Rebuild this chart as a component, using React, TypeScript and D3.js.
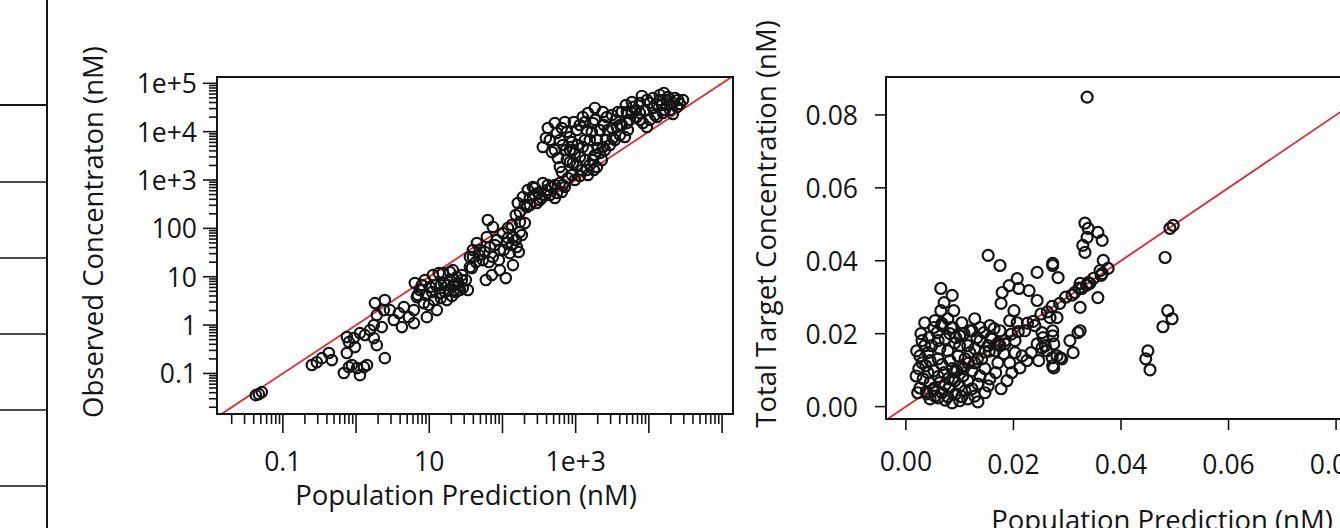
import React from 'react'
import * as d3 from 'd3'

// ---- left panel: observed vs population prediction (log-log), [pred, obs] in nM
const concLow: [number, number][] = [
  [0.0427, 0.0356], [0.047, 0.0373], [0.0516, 0.0411],
  [0.249, 0.149], [0.291, 0.171], [0.341, 0.207], [0.425, 0.264], [0.467, 0.189],
  [0.681, 0.102], [0.798, 0.135], [0.877, 0.149], [1.03, 0.129], [1.13, 0.0923], [1.28, 0.135], [1.41, 0.149],
  [0.748, 0.264], [0.798, 0.445], [0.933, 0.538], [0.964, 0.351], [0.748, 0.565],
  [1.13, 0.683], [1.32, 0.621], [1.55, 0.788], [1.75, 0.538], [1.92, 0.385], [2.47, 0.207],
  [1.81, 2.85], [2.47, 3.29], [1.92, 1.61], [2.25, 0.909], [1.75, 1.0], [2.4, 2.04], [2.9, 2.04],
  [3.28, 1.27], [3.85, 1.77], [4.23, 0.909], [4.5, 2.36], [5.26, 1.46], [6.17, 1.1], [6.17, 2.04]
]

const concMid: [number, number][] = [
  [6.35, 7.4], [6.77, 3.79], [7.45, 5.3], [8.43, 2.85], [9.27, 1.46], [10.2, 6.11], [11.6, 3.29], [12.7, 2.04],
  [13.5, 11.9], [14.0, 4.59], [15.8, 7.4], [17.4, 3.29], [19.1, 8.53], [21.7, 5.3], [23.8, 9.84], [26.2, 5.3],
  [27.9, 8.53], [35.9, 25.5], [38.2, 15.1],
  [6.98, 4.18], [7.93, 6.73], [8.98, 4.18], [9.88, 2.59], [10.9, 4.82], [12.3, 6.73], [14.4, 3.62], [16.3, 4.82],
  [17.9, 6.73], [20.4, 3.98], [22.4, 6.73], [24.6, 7.4], [28.8, 5.83], [31.6, 8.53], [33.7, 5.3],
  [8.71, 8.53], [11.2, 10.8], [14.4, 6.73], [18.5, 5.3], [23.1, 4.82], [27.9, 10.8],
  [15.3, 11.9], [19.1, 12.5], [21.0, 13.7], [35.9, 15.8], [39.5, 25.5], [44.7, 49.8], [49.1, 35.6], [54.0, 22.1],
  [61.2, 66.2], [67.3, 41.1], [73.9, 25.5], [83.8, 57.4], [92.1, 35.6], [101, 80.1], [115, 49.8], [126, 30.9],
  [139, 66.2], [157, 41.1], [173, 84.0], [63.1, 149], [73.9, 107], [202, 129], [39.5, 35.6],
  [43.4, 20.1], [47.6, 28.1], [57.5, 32.4], [65.2, 20.1], [78.7, 45.2], [89.3, 22.1], [104, 35.6], [119, 63.1],
  [134, 45.2], [152, 57.4], [167, 32.4], [184, 72.8],
  [71.6, 10.8], [92.1, 13.7], [111, 9.38], [139, 17.4], [59.3, 8.53],
  [152, 189], [134, 117], [119, 102], [173, 135]
]

const concHigh: [number, number][] = [
  [162, 334], [190, 445], [222, 621], [260, 716], [305, 538], [356, 867], [405, 621], [473, 716], [553, 538],
  [647, 565], [711, 716], [215, 277], [295, 334], [173, 218], [202, 304], [237, 425], [277, 490], [324, 385],
  [379, 490], [444, 490], [520, 789], [608, 867], [782, 1100], [887, 1270], [975, 1000],
  [237, 304], [277, 684], [345, 425], [417, 789], [520, 425], [668, 789],
  [608, 1860], [759, 2590], [916, 2250], [1140, 2990], [1420, 1610], [1720, 2590], [2140, 3620], [1950, 1860],
  [916, 4180], [1250, 4820], [1560, 6730], [2350, 4820], [647, 1470], [1040, 2050], [1220, 1610], [1340, 2590],
  [1560, 2050], [1830, 3290], [2280, 2590], [2510, 4180], [2930, 5300], [3430, 6730], [4020, 8530], [2750, 10800],
  [2430, 13700], [834, 2360], [1140, 1210], [1470, 1270], [1770, 1610],
  [356, 4820], [444, 6730], [520, 15100], [553, 9390], [711, 15800], [759, 9840], [520, 4180], [571, 2850],
  [668, 5300], [887, 6110], [975, 3620], [1040, 10800], [417, 11900], [834, 7760],
  [392, 7400], [473, 3800], [608, 6730], [647, 11900], [834, 4180], [1070, 5300], [1140, 13700], [1340, 6730],
  [1660, 9840], [1830, 17500], [2010, 4590], [2590, 6730], [3130, 11900], [3540, 17500], [4280, 13700],
  [5160, 10800], [3780, 25500], [2350, 25500], [1830, 30900], [1340, 15800], [944, 15800], [735, 4180], [1470, 4180],
  [1250, 20100], [1470, 24300], [1720, 15100], [2140, 10800], [2670, 20100], [3130, 22100], [3660, 12500],
  [4280, 25500], [4700, 7760], [5000, 15100], [5860, 24300], [1420, 10800], [1950, 6730], [3220, 7400],
  [6040, 32400], [7530, 39200], [9390, 45200], [11400, 49800], [14100, 57400], [17600, 45200], [21300, 39200],
  [24200, 32400], [19400, 28100], [15500, 24300], [12900, 20100], [10300, 17500], [8280, 15100], [7530, 24300],
  [11400, 30900], [9390, 12500], [6850, 20100], [15100, 35600], [21300, 23200], [5000, 25500], [8810, 28100],
  [10300, 39200], [12100, 22100], [14100, 45200], [16600, 28100], [18200, 52100], [22700, 49800], [25000, 45200],
  [6640, 28100], [5500, 17500], [4020, 13700],
  [5860, 41100], [8020, 54700], [12900, 37400], [16000, 63100], [19400, 37400], [26500, 37400], [29200, 45200],
  [4850, 35600], [7530, 17500]
]

const concDomainX = [0.0126, 1.41e5]
const concDomainY = [0.0145, 1.35e5]
const concXTickValues = [0.1, 10, 1000]
const concXTickLabels = ['0.1', '10', '1e+3']
const concYTickValues = [0.1, 1, 10, 100, 1e3, 1e4, 1e5]
const concYTickLabels = ['0.1', '1', '10', '100', '1e+3', '1e+4', '1e+5']

// ---- right panel: total target concentration vs population prediction (linear), [pred, obs] in nM
const targetOuter: [number, number][] = [
  [0.0337, 0.0849], [0.0333, 0.0503], [0.0339, 0.0489], [0.0337, 0.0464], [0.0329, 0.0442], [0.0333, 0.0423],
  [0.0357, 0.0478], [0.0365, 0.0456], [0.0367, 0.0401], [0.0365, 0.0365], [0.0376, 0.0379], [0.0283, 0.0354],
  [0.0273, 0.0393], [0.0324, 0.0272], [0.0357, 0.0299], [0.0314, 0.0313], [0.0327, 0.0324], [0.0339, 0.034],
  [0.0281, 0.0244], [0.0273, 0.0194], [0.0305, 0.0181], [0.032, 0.0203], [0.0311, 0.0148], [0.0287, 0.0134],
  [0.045, 0.0153], [0.0454, 0.0101], [0.0446, 0.0131], [0.0482, 0.0409], [0.0491, 0.0489], [0.0497, 0.0497],
  [0.0487, 0.0263], [0.0495, 0.0241], [0.0478, 0.0219], [0.0273, 0.0112], [0.029, 0.0131], [0.0361, 0.0373],
  [0.0342, 0.0338], [0.0324, 0.0338], [0.0324, 0.0208], [0.0268, 0.0244], [0.0273, 0.0208], [0.0255, 0.0189],
  [0.0244, 0.0172], [0.0262, 0.0153], [0.0275, 0.0106], [0.0272, 0.0134], [0.0247, 0.0126], [0.0281, 0.0139],
  [0.0253, 0.0161], [0.0275, 0.0172], [0.0233, 0.0148], [0.0216, 0.0139], [0.0182, 0.0145], [0.0177, 0.0049],
  [0.0188, 0.0071], [0.0212, 0.0106], [0.0225, 0.0126], [0.0153, 0.0415], [0.0175, 0.0387], [0.0273, 0.0387],
  [0.0244, 0.0368], [0.0179, 0.0313], [0.0192, 0.0332], [0.0207, 0.0351], [0.021, 0.0324], [0.0229, 0.0318],
  [0.0177, 0.0283], [0.0201, 0.0263], [0.0244, 0.0291], [0.0207, 0.023], [0.0253, 0.0203], [0.0193, 0.0236],
  [0.0138, 0.0217], [0.0119, 0.0208], [0.01, 0.0194], [0.0087, 0.0217], [0.0067, 0.0222], [0.0065, 0.0324],
  [0.0086, 0.0305], [0.0071, 0.0285], [0.0089, 0.0263], [0.0065, 0.0263], [0.0043, 0.0189], [0.0058, 0.0203],
  [0.0026, 0.0051], [0.0039, 0.0035], [0.006, 0.0024]
]

const targetLine: [number, number][] = [
  [0.0038, 0.0041], [0.0052, 0.0050], [0.0063, 0.0066], [0.0079, 0.0077], [0.0091, 0.0095], [0.0107, 0.0104],
  [0.0116, 0.0119], [0.0133, 0.0131], [0.0147, 0.0150], [0.0155, 0.0152], [0.0171, 0.0174], [0.0184, 0.0181],
  [0.0196, 0.0199], [0.0209, 0.0206], [0.0226, 0.0229], [0.0237, 0.0234], [0.0251, 0.0254], [0.0263, 0.0260],
  [0.0272, 0.0275], [0.0286, 0.0283], [0.0297, 0.0300], [0.0309, 0.0306], [0.0322, 0.0325], [0.0336, 0.0333],
  [0.0349, 0.0352], [0.0363, 0.0360]
]

const targetCore: [number, number][] = [
  [0.0035, 0.023], [0.0054, 0.0236], [0.0078, 0.0241], [0.0104, 0.023], [0.0128, 0.0241], [0.0156, 0.0222],
  [0.0175, 0.0208], [0.003, 0.0181], [0.0048, 0.0167], [0.0073, 0.0186], [0.0091, 0.0175], [0.0115, 0.0167],
  [0.0138, 0.0181], [0.016, 0.0186], [0.0184, 0.0172], [0.0203, 0.0181], [0.0026, 0.0139], [0.0041, 0.0148],
  [0.006, 0.0131], [0.0078, 0.0153], [0.0097, 0.0139], [0.0119, 0.0148], [0.0141, 0.0131], [0.0166, 0.0153],
  [0.0193, 0.012], [0.0024, 0.0104], [0.0037, 0.0112], [0.0052, 0.0098], [0.0067, 0.0115], [0.0086, 0.0104],
  [0.0104, 0.0109], [0.0123, 0.0098], [0.0147, 0.0104], [0.0167, 0.0093], [0.0032, 0.0076], [0.0045, 0.0065],
  [0.006, 0.0082], [0.0073, 0.006], [0.0087, 0.0076], [0.01, 0.0057], [0.0115, 0.0071], [0.0134, 0.0062],
  [0.0156, 0.0076], [0.0052, 0.0046], [0.0067, 0.0038], [0.008, 0.0051], [0.0093, 0.0035], [0.011, 0.0043],
  [0.0128, 0.0029], [0.0147, 0.0038], [0.0045, 0.0021], [0.0073, 0.0018], [0.0086, 0.001], [0.01, 0.0016],
  [0.0115, 0.0021], [0.0134, 0.0013], [0.002, 0.0153], [0.0019, 0.0084], [0.0022, 0.0038], [0.0028, 0.02],
  [0.0052, 0.0217], [0.0067, 0.0228], [0.0084, 0.0217], [0.0093, 0.0189], [0.0108, 0.02], [0.0123, 0.0208],
  [0.0132, 0.0189], [0.0145, 0.0203], [0.0158, 0.0189], [0.0164, 0.0214],
  [0.0035, 0.0167], [0.0045, 0.0126], [0.0063, 0.0159], [0.0071, 0.0093], [0.0082, 0.0126], [0.0091, 0.0071],
  [0.0106, 0.0084], [0.011, 0.0131], [0.0128, 0.012], [0.0138, 0.0084], [0.0153, 0.0057], [0.0054, 0.0029],
  [0.0078, 0.0027], [0.0104, 0.0027], [0.0123, 0.0049], [0.0041, 0.0093], [0.003, 0.012], [0.006, 0.0181],
  [0.0082, 0.02], [0.01, 0.0167], [0.0128, 0.0159], [0.0153, 0.0167], [0.0175, 0.0167], [0.0171, 0.012],
  [0.0203, 0.0148], [0.0221, 0.0208], [0.024, 0.0222], [0.0259, 0.0167], [0.0197, 0.0093], [0.0095, 0.0098]
]

const targetDomainX = [-0.0037, 0.0904]
const targetDomainY = [-0.0034, 0.0904]
const targetTickValues = [0, 0.02, 0.04, 0.06, 0.08]
const targetTickLabels = ['0.00', '0.02', '0.04', '0.06', '0.08']

// table edge on the far left of the page
const tableRowLines = [105, 182, 258, 334, 410, 486]

const FONT = '"Open Sans", "Noto Sans", sans-serif'
const INK = '#141414'
const RED = '#e4262b'
const TICK_FS = 26.5
const TITLE_FS = 27.5

const isPow10 = (v: number) => Math.abs(Math.log10(v) - Math.round(Math.log10(v))) < 1e-9

export default function App() {
  // left panel geometry
  const L = { left: 217, right: 733, top: 77, bottom: 414 }
  const cx = d3.scaleLog().domain(concDomainX).range([L.left, L.right])
  const cy = d3.scaleLog().domain(concDomainY).range([L.bottom, L.top])

  // right panel geometry (box runs past the page edge)
  const R = { left: 886, right: 1392, top: 77, bottom: 419 }
  const tx = d3.scaleLinear().domain(targetDomainX).range([R.left, R.right])
  const ty = d3.scaleLinear().domain(targetDomainY).range([R.bottom, R.top])

  const concPoints = [...concLow, ...concMid, ...concHigh]
  const targetPoints = [...targetCore, ...targetLine, ...targetOuter]

  const lineC = d3.line<number>().x((d) => cx(d)).y((d) => cy(d))
  const lineT = d3.line<number>().x((d) => tx(d)).y((d) => ty(d))

  return (
    <svg width={1340} height={528} style={{ position: 'absolute', left: 0, top: 0, background: '#fff' }}
      fontFamily={FONT}>
      <defs>
        <clipPath id="clipL"><rect x={L.left} y={L.top} width={L.right - L.left} height={L.bottom - L.top} /></clipPath>
        <clipPath id="clipR"><rect x={R.left} y={R.top} width={R.right - R.left} height={R.bottom - R.top} /></clipPath>
      </defs>
      <rect width={1340} height={528} fill="#fff" />

      {/* table edge */}
      <line x1={47} x2={47} y1={0} y2={528} stroke={INK} strokeWidth={2} />
      {tableRowLines.map((y, i) => (
        <line key={y} x1={0} x2={47} y1={y} y2={y} stroke={INK} strokeWidth={i === 0 ? 2 : 1.3} />
      ))}

      {/* ---------- left panel ---------- */}
      <g clipPath="url(#clipL)">
        <path d={lineC([concDomainY[0], concDomainY[1]]) || ''} stroke={RED} strokeWidth={1.8} fill="none" />
        {concPoints.map((d, i) => (
          <circle key={i} cx={cx(d[0])} cy={cy(d[1])} r={5.2} fill="none" stroke={INK} strokeWidth={2.2} />
        ))}
      </g>
      <rect x={L.left} y={L.top} width={L.right - L.left} height={L.bottom - L.top} fill="none" stroke={INK} strokeWidth={2} />
      {cx.ticks().map((v, i) => (
        <line key={'cxt' + i} x1={cx(v)} x2={cx(v)} y1={L.bottom + 1}
          y2={L.bottom + (isPow10(v) ? 19 : 10)} stroke={INK} strokeWidth={1.6} />
      ))}
      {cy.ticks().map((v, i) => (
        <line key={'cyt' + i} y1={cy(v)} y2={cy(v)} x1={L.left - 1}
          x2={L.left - (isPow10(v) ? 14 : 8)} stroke={INK} strokeWidth={1.6} />
      ))}
      {concXTickValues.map((v, i) => (
        <text key={'cxl' + i} x={cx(v)} y={471} textAnchor="middle" fontSize={TICK_FS} fill={INK}>{concXTickLabels[i]}</text>
      ))}
      {concYTickValues.map((v, i) => (
        <text key={'cyl' + i} x={197} y={cy(v)} textAnchor="end" dominantBaseline="central" fontSize={TICK_FS} fill={INK}>
          {concYTickLabels[i]}
        </text>
      ))}
      <text x={466} y={505} textAnchor="middle" fontSize={TITLE_FS} fill={INK}>Population Prediction (nM)</text>
      <text transform="translate(92,232) rotate(-90)" textAnchor="middle" dominantBaseline="central" fontSize={TITLE_FS} fill={INK}>
        Observed Concentraton (nM)
      </text>

      {/* ---------- right panel ---------- */}
      <g clipPath="url(#clipR)">
        <path d={lineT([targetDomainY[0], targetDomainY[1]]) || ''} stroke={RED} strokeWidth={1.8} fill="none" />
        {targetPoints.map((d, i) => (
          <circle key={i} cx={tx(d[0])} cy={ty(d[1])} r={5.5} fill="none" stroke={INK} strokeWidth={2.2} />
        ))}
      </g>
      <rect x={R.left} y={R.top} width={R.right - R.left} height={R.bottom - R.top} fill="none" stroke={INK} strokeWidth={2} />
      {targetTickValues.map((v, i) => (
        <g key={'tt' + i}>
          <line x1={tx(v)} x2={tx(v)} y1={R.bottom} y2={R.bottom + 11} stroke={INK} strokeWidth={1.6} />
          <line y1={ty(v)} y2={ty(v)} x1={R.left} x2={R.left - 11} stroke={INK} strokeWidth={1.6} />
          <text x={tx(v)} y={i === 0 ? 471 : 474} textAnchor="middle" fontSize={TICK_FS} fill={INK}>{targetTickLabels[i]}</text>
          <text x={858} y={ty(v)} textAnchor="end" dominantBaseline="central" fontSize={TICK_FS} fill={INK}>{targetTickLabels[i]}</text>
        </g>
      ))}
      <text x={1162} y={530} textAnchor="middle" fontSize={TITLE_FS} fill={INK}>Population Prediction (nM)</text>
      <text transform="translate(765,224) rotate(-90)" textAnchor="middle" dominantBaseline="central" fontSize={TITLE_FS} fill={INK}>
        Total Target Concentration (nM)
      </text>
    </svg>
  )
}
